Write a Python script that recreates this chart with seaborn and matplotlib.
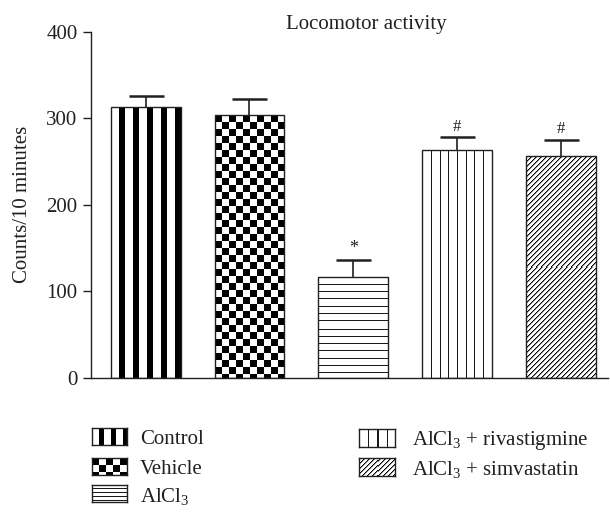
import matplotlib
matplotlib.use("Agg")
import matplotlib.pyplot as plt
import numpy as np
import seaborn as sns

# values (mean and upper error, counts / 10 min)
groups = ["Control", "Vehicle", "AlCl3", "AlCl3 + rivastigmine", "AlCl3 + simvastatin"]
means = [313, 304, 116, 263, 256]
sem = [13, 19, 20, 15, 19]
marks = ["", "", "*", "#", "#"]
legend_labels = ["Control", "Vehicle", r"AlCl$_3$",
                 r"AlCl$_3$ + rivastigmine", r"AlCl$_3$ + simvastatin"]

ink = "#231f20"
W, H = 610, 516


def pattern(kind, h, w, small=False):
    """grey-level array (0 black, 1 white) of the fill pattern"""
    r = np.arange(h)[:, None]
    c = np.arange(w)[None, :]
    img = np.ones((h, w))
    if kind == "vstripe":
        per, blk = (12, 5) if small else (14, 6)
        img[:, :] = np.where((c % per) >= per - blk, 0.0, 1.0)
    elif kind == "checker":
        s = 7
        img[:, :] = np.where(((c // s) + (r // s)) % 2 == 0, 0.0, 1.0)
    elif kind == "hline":
        per = 4 if small else 7.3
        img[:, :] = np.where(np.floor((r + 1) / per) != np.floor(r / per), 0.1, 1.0)
    elif kind == "vline":
        n = 4 if small else 8
        cols = [int(round(k * w / n)) for k in range(1, n)]
        for cc in cols:
            img[:, cc] = 0.1
    elif kind == "diag":
        m = (c + r) % 5
        img[:, :] = np.where(m == 0, 0.0, np.where(m == 1, 0.55, 1.0))
    return img


kinds = ["vstripe", "checker", "hline", "vline", "diag"]

sns.set_style("ticks")
plt.rcParams["font.family"] = ["Liberation Serif", "DejaVu Serif"]
plt.rcParams["mathtext.default"] = "regular"
plt.rcParams["text.color"] = ink
plt.rcParams["axes.labelcolor"] = ink
plt.rcParams["xtick.color"] = ink
plt.rcParams["ytick.color"] = ink

fig = plt.figure(figsize=(W / 100, H / 100), dpi=100)
ax = fig.add_axes([91 / W, 1 - 377.7 / H, (608 - 91) / W, (377.7 - 32) / H])

sns.barplot(x=groups, y=means, color="white", edgecolor=ink, linewidth=1.0,
            width=0.674, errorbar=None, ax=ax)
ax.set_xlim(-0.527, 4.454)
ax.set_ylim(0, 400)

bars = list(ax.patches)
centers = [p.get_x() + p.get_width() / 2 for p in bars]

# fill patterns, sized in pixels from each bar's own extent
for p, kind in zip(bars, kinds):
    x0, x1 = p.get_x(), p.get_x() + p.get_width()
    top = p.get_height()
    (px0, py0), (px1, py1) = ax.transData.transform([(x0, 0), (x1, top)])
    w = int(round(px1 - px0))
    h = int(round(py1 - py0))
    ax.imshow(pattern(kind, h, w), cmap="gray", vmin=0, vmax=1,
              extent=(x0, x1, 0, top), aspect="auto",
              interpolation="nearest", zorder=1)
    p.set_facecolor("none")
    p.set_zorder(2)

ax.set_xlim(-0.527, 4.454)
ax.set_ylim(0, 400)

eb = ax.errorbar(centers, means, yerr=[np.zeros(len(sem)), sem], fmt="none",
                 ecolor=ink, elinewidth=1.2, capsize=12.6, capthick=1.8, zorder=3)
# hide the caps sitting on the bar tops (lower side of the error)
for cap in eb[1]:
    if np.allclose(cap.get_ydata(), means):
        cap.set_visible(False)

for cx, m, e, s in zip(centers, means, sem, marks):
    if s:
        ax.annotate(s, (cx, m + e), xytext=(0, 2), textcoords="offset points",
                    ha="center", va="bottom", fontsize=13 if s == "*" else 12,
                    color=ink)

sns.despine(ax=ax)
ax.spines["left"].set_color(ink)
ax.spines["bottom"].set_color(ink)
ax.spines["left"].set_linewidth(1.0)
ax.spines["bottom"].set_linewidth(1.0)
ax.set_yticks([0, 100, 200, 300, 400])
ax.tick_params(axis="y", direction="out", length=5.8, width=1.0, pad=4, labelsize=15)
ax.tick_params(axis="x", length=0, labelbottom=False)
ax.set_xlabel("")
ax.set_ylabel("Counts/10 minutes", fontsize=15, va="center")
ax.yaxis.set_label_coords(-0.133, 0.5)

fig.text(366.5 / W, 1 - 25 / H, "Locomotor activity", ha="center", va="center",
         fontsize=15)

# legend drawn as small pattern boxes with labels
legend_boxes = [(92, 428, 35, 17), (92, 458, 35, 17), (92, 485, 35, 17),
                (359, 429, 36, 18), (359, 458, 36, 18)]
text_x = [140, 140, 140, 412, 412]
for (bx, by, bw, bh), kind, lab, tx in zip(legend_boxes, kinds, legend_labels, text_x):
    lax = fig.add_axes([bx / W, 1 - (by + bh) / H, bw / W, bh / H])
    lax.imshow(pattern(kind, bh, bw, small=True), cmap="gray", vmin=0, vmax=1,
               aspect="auto", interpolation="nearest")
    lax.set_xticks([])
    lax.set_yticks([])
    for sp in lax.spines.values():
        sp.set_color(ink)
        sp.set_linewidth(1.0)
    fig.text(tx / W, 1 - (by + bh / 2 + 3) / H, lab, ha="left", va="center",
             fontsize=15)

fig.savefig("out.png", dpi=100)
